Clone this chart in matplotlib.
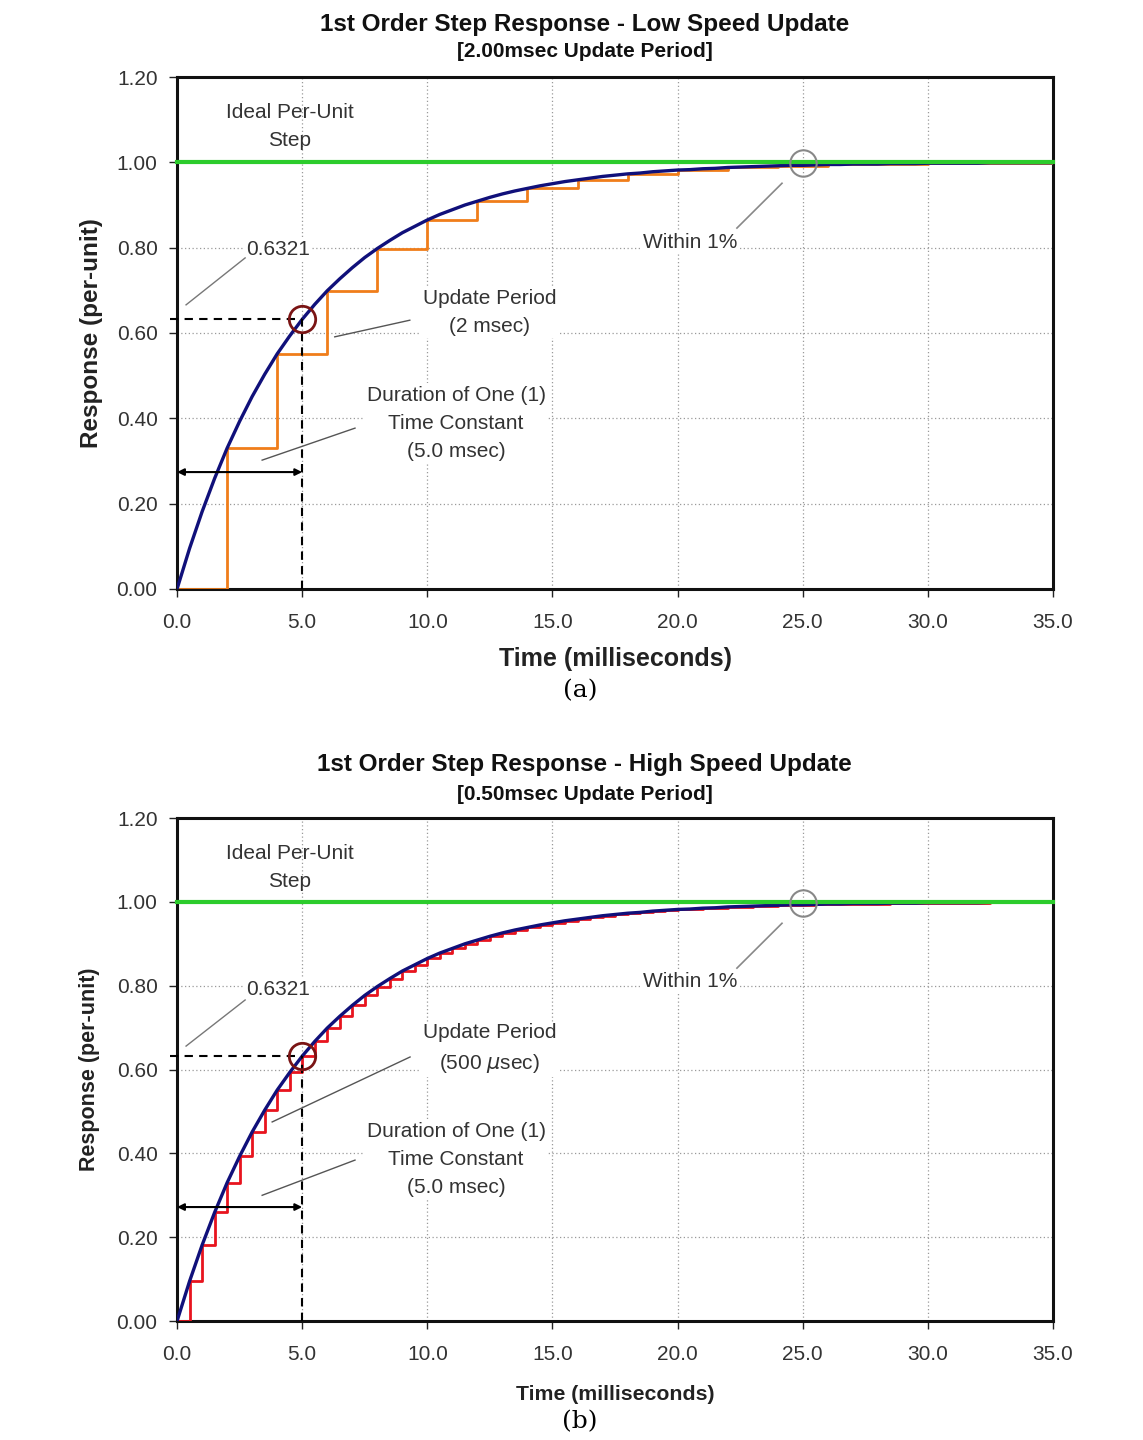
import matplotlib
matplotlib.use("Agg")
import matplotlib.pyplot as plt
import numpy as np

plt.rcParams['font.family'] = ['Liberation Sans', 'DejaVu Sans']

time_ms = [i * 0.5 for i in range(71)]
response = [0.000, 0.095, 0.181, 0.259, 0.330, 0.393, 0.451, 0.503, 0.551, 0.593,
            0.632, 0.667, 0.699, 0.727, 0.753, 0.777, 0.798, 0.817, 0.835, 0.850,
            0.865, 0.878, 0.889, 0.900, 0.909, 0.918, 0.926, 0.933, 0.939, 0.945,
            0.950, 0.955, 0.959, 0.963, 0.967, 0.970, 0.973, 0.975, 0.978, 0.980,
            0.982, 0.983, 0.985, 0.986, 0.988, 0.989, 0.990, 0.991, 0.992, 0.993,
            0.993, 0.994, 0.995, 0.995, 0.996, 0.996, 0.996, 0.997, 0.997, 0.997,
            0.998, 0.998, 0.998, 0.998, 0.998, 0.999, 0.999, 0.999, 0.999, 0.999,
            0.999]
# low-speed update: sampled every 2 ms (held value)
low_t = [0, 2, 4, 6, 8, 10, 12, 14, 16, 18, 20, 22, 24, 26, 28, 30, 32, 34, 35]
low_y = [0.000, 0.330, 0.551, 0.699, 0.798, 0.865, 0.909, 0.939, 0.959, 0.973,
         0.982, 0.988, 0.992, 0.995, 0.996, 0.998, 0.998, 0.999, 0.999]
# high-speed update: sampled every 0.5 ms (held value)
high_t = time_ms
high_y = response

ideal_t = [0, 35]
ideal_y = [1.0, 1.0]

x_ticks = [0, 5, 10, 15, 20, 25, 30, 35]
x_labels = ["0.0", "5.0", "10.0", "15.0", "20.0", "25.0", "30.0", "35.0"]
y_ticks = [0.0, 0.2, 0.4, 0.6, 0.8, 1.0, 1.2]
y_labels = ["0.00", "0.20", "0.40", "0.60", "0.80", "1.00", "1.20"]

tau = 5.0
tau_value = 0.6321

fig = plt.figure(figsize=(11.43, 14.40), dpi=100)
fig.patch.set_facecolor('white')

TXT = '#333333'


def draw(ax, step_t, step_y, step_color, label_fs, upd_text, upd_line, arrow_y,
         lbl6321_y, line6321, dur_y, dur_line, within_y, within_line):
    ax.set_xlim(0, 35)
    ax.set_ylim(0, 1.2)
    ax.set_xticks(x_ticks)
    ax.set_xticklabels(x_labels)
    ax.set_yticks(y_ticks)
    ax.set_yticklabels(y_labels)
    ax.tick_params(axis='both', labelsize=15, colors='#222222', length=6,
                   width=1, direction='out')
    ax.tick_params(axis='x', pad=11)
    ax.tick_params(axis='y', pad=8)
    for lbl in ax.get_xticklabels() + ax.get_yticklabels():
        lbl.set_color('#333333')
    for s in ax.spines.values():
        s.set_linewidth(2.2)
        s.set_color('#111111')
    ax.grid(True, color='#9a9a9a', linestyle=(0, (1, 2)), linewidth=0.9)
    ax.set_axisbelow(True)

    ax.plot(step_t, step_y, drawstyle='steps-post', color=step_color, lw=2.0, zorder=3)
    ax.plot(time_ms, response, color='#10107a', lw=2.4, zorder=4)
    ax.plot(ideal_t, ideal_y, color='#2ccc2c', lw=3.0, zorder=5, clip_on=False)

    # time-constant markers
    ax.plot([-0.3, tau], [tau_value, tau_value], color='black', lw=1.5,
            linestyle=(0, (4, 3)), zorder=6, clip_on=False)
    ax.plot([tau, tau], [0, tau_value], color='black', lw=1.5,
            linestyle=(0, (4, 3)), zorder=6)
    ax.plot([tau], [tau_value], marker='o', markersize=19, markerfacecolor='none',
            markeredgecolor='#7a1414', markeredgewidth=2.0, zorder=7)
    ax.plot([25], [0.998], marker='o', markersize=19, markerfacecolor='none',
            markeredgecolor='#888888', markeredgewidth=1.5, zorder=7)
    ax.annotate('', xy=(0, arrow_y), xytext=(tau, arrow_y),
                arrowprops=dict(arrowstyle='<|-|>', color='black', lw=1.5,
                                mutation_scale=10, shrinkA=0, shrinkB=0), zorder=8)

    tb = dict(facecolor='white', edgecolor='none', pad=1.5)
    ax.text(4.5, 1.083, 'Ideal Per-Unit\nStep', ha='center', va='center',
            fontsize=label_fs, color=TXT, linespacing=1.6, zorder=9)
    ax.text(4.05, lbl6321_y, '0.6321', ha='center', va='center', fontsize=label_fs,
            color=TXT, bbox=tb, zorder=9)
    ax.plot(line6321[0], line6321[1], color='#777777', lw=1.0, zorder=9)
    ax.text(12.5, 0.649, upd_text, ha='center', va='center', fontsize=label_fs,
            color=TXT, linespacing=1.6, bbox=tb, zorder=9)
    ax.plot(upd_line[0], upd_line[1], color='#555555', lw=1.0, zorder=9)
    ax.text(11.15, dur_y, 'Duration of One (1)\nTime Constant\n(5.0 msec)',
            ha='center', va='center', fontsize=label_fs, color=TXT,
            linespacing=1.6, bbox=tb, zorder=9)
    ax.plot(dur_line[0], dur_line[1], color='#555555', lw=1.0, zorder=9)
    ax.text(20.5, within_y, 'Within 1%', ha='center', va='center', fontsize=label_fs,
            color=TXT, bbox=tb, zorder=9)
    ax.plot(within_line[0], within_line[1], color='#888888', lw=1.2, zorder=9)


# ---------------- top chart ----------------
ax1 = fig.add_axes([0.1549, 0.5910, 0.7664, 0.3555])
draw(ax1, low_t, low_y, '#f07d1a', 15, 'Update Period\n(2 msec)',
     ([6.3, 9.3], [0.591, 0.630]), 0.274,
     0.795, ([0.36, 2.72], [0.666, 0.776]),
     0.389, ([3.40, 7.11], [0.302, 0.377]),
     0.813, ([22.37, 24.17], [0.846, 0.951]))
ax1.set_ylabel('Response (per-unit)', fontsize=17.5, fontweight='bold',
               color='#222222', labelpad=10)
ax1.set_xlabel('Time (milliseconds)', fontsize=18, fontweight='bold',
               color='#222222', labelpad=11)
fig.text(0.5113, 0.9833, '1st Order Step Response - Low Speed Update',
         ha='center', va='center', fontsize=17.5, fontweight='bold', color='#111111')
fig.text(0.5113, 0.9639, '[2.00msec Update Period]', ha='center', va='center',
         fontsize=15, fontweight='bold', color='#111111')
fig.text(0.5075, 0.5205, '(a)', ha='center', va='center', fontsize=18,
         family='DejaVu Serif', color='black')

# ---------------- bottom chart ----------------
ax2 = fig.add_axes([0.1549, 0.0826, 0.7664, 0.3493])
draw(ax2, high_t, high_y, '#e8141e', 15, 'Update Period\n(500 $\\mu$sec)',
     ([3.80, 9.31], [0.475, 0.630]), 0.272,
     0.790, ([0.36, 2.72], [0.656, 0.766]),
     0.386, ([3.40, 7.11], [0.30, 0.384]),
     0.811, ([22.37, 24.17], [0.842, 0.949]))
ax2.set_ylabel('Response (per-unit)', fontsize=15.5, fontweight='bold',
               color='#222222', labelpad=12)
ax2.set_xlabel('Time (milliseconds)', fontsize=15.3, fontweight='bold',
               color='#222222', labelpad=15)
fig.text(0.5113, 0.4688, '1st Order Step Response - High Speed Update',
         ha='center', va='center', fontsize=17.5, fontweight='bold', color='#111111')
fig.text(0.5113, 0.4486, '[0.50msec Update Period]', ha='center', va='center',
         fontsize=15, fontweight='bold', color='#111111')
fig.text(0.5075, 0.0125, '(b)', ha='center', va='center', fontsize=18,
         family='DejaVu Serif', color='black')

fig.savefig('out.png', dpi=100, facecolor='white')
